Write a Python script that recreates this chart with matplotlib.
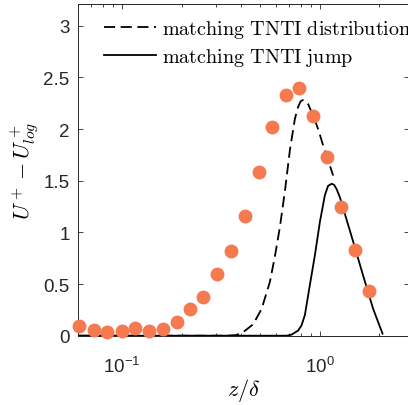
import matplotlib
matplotlib.use('agg')
import matplotlib.pyplot as plt
import numpy as np

plt.rcParams['font.family'] = ['Liberation Sans', 'DejaVu Sans']
plt.rcParams['mathtext.fontset'] = 'cm'
plt.rcParams['lines.scale_dashes'] = False

# symbols: measured U+ - U+_log
z_dots = [0.0608, 0.0724, 0.0843, 0.0997, 0.117, 0.137, 0.161, 0.189, 0.220, 0.257, 0.303,
          0.356, 0.417, 0.492, 0.573, 0.674, 0.787, 0.927, 1.089, 1.282, 1.507, 1.763]
du_dots = [0.094, 0.055, 0.036, 0.045, 0.077, 0.045, 0.068, 0.13, 0.26, 0.37, 0.60,
           0.82, 1.16, 1.58, 2.02, 2.33, 2.40, 2.13, 1.73, 1.25, 0.83, 0.43]

# matching TNTI distribution (dashed)
z_dist = [0.06, 0.2, 0.338, 0.376, 0.410, 0.460, 0.508, 0.559, 0.593, 0.628, 0.666,
          0.706, 0.748, 0.775, 0.800, 0.823, 0.848, 0.873, 0.925, 0.98, 1.039, 1.10, 1.167]
du_dist = [0, 0, 0, 0.005, 0.035, 0.11, 0.26, 0.52, 0.77, 1.05, 1.40,
           1.80, 2.10, 2.21, 2.27, 2.28, 2.27, 2.24, 2.13, 2.00, 1.84, 1.70, 1.55]

# matching TNTI jump (solid)
z_jump = [0.06, 0.5, 0.68, 0.719, 0.777, 0.808, 0.840, 0.890, 0.944, 1.0, 1.06,
          1.10, 1.146, 1.18, 1.214, 1.262, 1.337, 1.473, 1.655, 1.858, 2.073]
du_jump = [0, 0, 0, 0.01, 0.05, 0.10, 0.20, 0.49, 0.78, 1.10, 1.36,
           1.45, 1.47, 1.46, 1.42, 1.34, 1.18, 0.91, 0.58, 0.26, 0.02]

yticks = [0, 0.5, 1, 1.5, 2, 2.5, 3]
yticklabels = ['0', '0.5', '1', '1.5', '2', '2.5', '3']

fig = plt.figure(figsize=(4.08, 4.06), dpi=100)
ax = fig.add_axes([78/408, (406-336.7)/406, (409-78)/408, (336.7-5)/406])

ax.plot(z_dist, du_dist, color='k', lw=1.3, dashes=(8, 4),
        label=r'$\mathrm{matching\ TNTI\ distribution}$')
ax.plot(z_jump, du_jump, color='k', lw=1.3,
        label=r'$\mathrm{matching\ TNTI\ jump}$')
ax.plot(z_dots, du_dots, 'o', color='#F57A50', ms=10, mec='none', clip_on=False, zorder=5)

ax.set_xscale('log')
ax.set_xlim(0.06, 2.82)
ax.set_ylim(0, 3.21)
ax.set_yticks(yticks)
ax.set_yticklabels(yticklabels)

ax.tick_params(which='both', direction='in', top=True, right=True,
               labelsize=13.5, colors='#262626', width=0.6)
ax.tick_params(which='major', length=3.5)
ax.tick_params(which='minor', length=2)
ax.tick_params(axis='y', pad=6)
ax.tick_params(axis='x', pad=14.5)
for s in ax.spines.values():
    s.set_linewidth(0.7)
    s.set_color('#262626')

ax.set_xlabel(r'$z/\delta$', fontsize=16, labelpad=0)
ax.set_ylabel(r'$U^+ - U^+_{log}$', fontsize=16, labelpad=2)

ax.legend(loc='upper left', bbox_to_anchor=(0.036, 1.0), frameon=False,
          fontsize=14.5, handlelength=2.6, handletextpad=0.3, labelspacing=0.3,
          borderaxespad=0.3)

fig.savefig('out.png', dpi=100)
